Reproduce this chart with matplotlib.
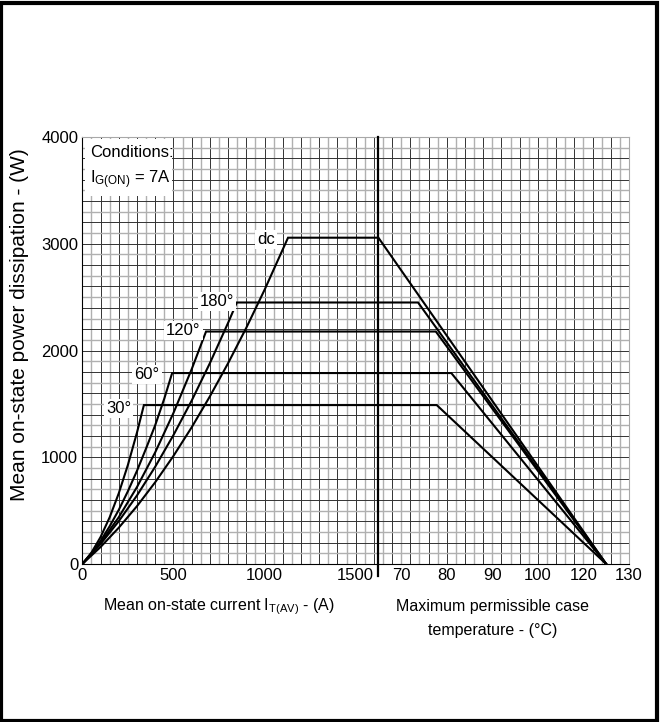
import matplotlib
matplotlib.use("Agg")
import matplotlib.pyplot as plt
from matplotlib.patches import Rectangle

plt.rcParams['font.family'] = ['Liberation Sans', 'DejaVu Sans']
plt.rcParams['mathtext.fontset'] = 'custom'
plt.rcParams['mathtext.rm'] = 'Liberation Sans'
plt.rcParams['mathtext.it'] = 'Liberation Sans'

# =====================================
# DATA
# =====================================

# rising part: mean on-state current (A) -> power (W)
cur_30 = [0, 50, 100, 150, 200, 250, 300, 338]
pow_30 = [0, 106, 252, 437, 662, 927, 1231, 1489]

cur_60 = [0, 50, 100, 150, 200, 250, 300, 350, 400, 450, 493]
pow_60 = [0, 99, 216, 353, 507, 681, 873, 1083, 1300, 1550, 1789]

cur_120 = [0, 100, 200, 300, 400, 500, 600, 679]
pow_120 = [0, 198, 438, 721, 1046, 1414, 1824, 2178]

cur_180 = [0, 100, 200, 300, 400, 500, 600, 700, 800, 848]
pow_180 = [0, 187, 401, 642, 911, 1207, 1530, 1881, 2259, 2450]

cur_dc = [0, 100, 200, 300, 400, 500, 600, 700, 800, 900, 1000, 1129]
pow_dc = [0, 159, 340, 542, 766, 1012, 1280, 1570, 1881, 2213, 2568, 3057]

# derating part: case temperature (C) where plateau ends, and where all reach 0 W
temp_knee = {'30': 87.8, '60': 91.0, '120': 87.6, '180': 83.7, 'dc': 75.0}
temp_zero = 125.0

curves = [
    ('30', cur_30, pow_30, '30°'),
    ('60', cur_60, pow_60, '60°'),
    ('120', cur_120, pow_120, '120°'),
    ('180', cur_180, pow_180, '180°'),
    ('dc', cur_dc, pow_dc, 'dc'),
]

# label anchor (right edge) for each curve
label_x = {'30': 268, '60': 424, '120': 650, '180': 834, 'dc': 1058}
label_y = {'30': 1458, '60': 1772, '120': 2192, '180': 2457, 'dc': 3040}

cur_ticks = [0, 500, 1000, 1500]
temp_ticks = [80, 90, 100, 110, 120, 130]
temp_tick_labels = ['70', '80', '90', '100', '120', '130']
pow_ticks = [0, 1000, 2000, 3000, 4000]

# temperature scale shares the axis: 10 C = 250 A of width, 130 C at the right edge
X_MAX = 3000
T_DIV = 75


def t_to_x(t):
    return X_MAX - (130 - t) * 25


# =====================================
# FIGURE
# =====================================

fig = plt.figure(figsize=(6.6, 7.22), dpi=100)
fig.patches.append(Rectangle((0.002, 0.002), 0.994, 0.994, transform=fig.transFigure,
                             fill=False, edgecolor='black', linewidth=3))

ax = fig.add_axes([0.1247, 0.2188, 0.8283, 0.5914])
ax.set_xlim(0, X_MAX)
ax.set_ylim(0, 4000)

# grid paper
for gx in range(50, X_MAX, 50):
    if gx % 100 == 0:
        ax.axvline(gx, color='#333333', linewidth=0.7, zorder=1)
    else:
        ax.axvline(gx, color='#b0b0b0', linewidth=1.0, zorder=1)
for gy in range(100, 4000, 100):
    if gy % 200 == 0:
        ax.axhline(gy, color='#333333', linewidth=0.7, zorder=1)
    else:
        ax.axhline(gy, color='#b0b0b0', linewidth=1.0, zorder=1)

# divider between current and temperature scales
x_div = t_to_x(T_DIV)
ax.plot([x_div, x_div], [-110, 4000], color='black', linewidth=1.6,
        clip_on=False, zorder=3)

# curves
for key, cur, pw, txt in curves:
    xs = list(cur) + [t_to_x(temp_knee[key]), t_to_x(temp_zero)]
    ys = list(pw) + [pw[-1], 0]
    ax.plot(xs, ys, color='black', linewidth=1.5, zorder=4, solid_joinstyle='miter')
    ax.text(label_x[key], label_y[key], txt, ha='right', va='center', fontsize=12,
            zorder=5, bbox=dict(facecolor='white', edgecolor='none', pad=1.5))

# conditions box
ax.add_patch(Rectangle((15, 3450), 475, 530, facecolor='white', edgecolor='none', zorder=2))
ax.text(42, 3855, 'Conditions:', ha='left', va='center', fontsize=12, zorder=5)
ax.text(42, 3600, r'I$_{\mathregular{G(ON)}}$ = 7A', ha='left', va='center',
        fontsize=12, zorder=5)

# axes, ticks
for side in ['top', 'right']:
    ax.spines[side].set_color('#a8a8a8')
ax.spines['left'].set_color('black')
ax.spines['bottom'].set_color('black')
ax.set_xticks(cur_ticks + [t_to_x(t) for t in temp_ticks])
ax.set_xticklabels([str(c) for c in cur_ticks] + temp_tick_labels)
ax.set_yticks(pow_ticks)
ax.set_yticklabels([str(p) for p in pow_ticks])
ax.tick_params(length=0, labelsize=12, pad=3)

# axis titles
fig.text(20 / 660, 1 - 325 / 722, 'Mean on-state power dissipation - (W)',
         rotation=90, ha='center', va='center', fontsize=15)
fig.text(219 / 660, 1 - 607 / 722, r'Mean on-state current I$_{\mathregular{T(AV)}}$ - (A)',
         ha='center', va='center', fontsize=11.5)
fig.text(493 / 660, 1 - 607 / 722, 'Maximum permissible case', ha='center', va='center',
         fontsize=11.5)
fig.text(493 / 660, 1 - 630 / 722, 'temperature - (°C)', ha='center', va='center',
         fontsize=11.5)

plt.savefig("out.png", dpi=100)
